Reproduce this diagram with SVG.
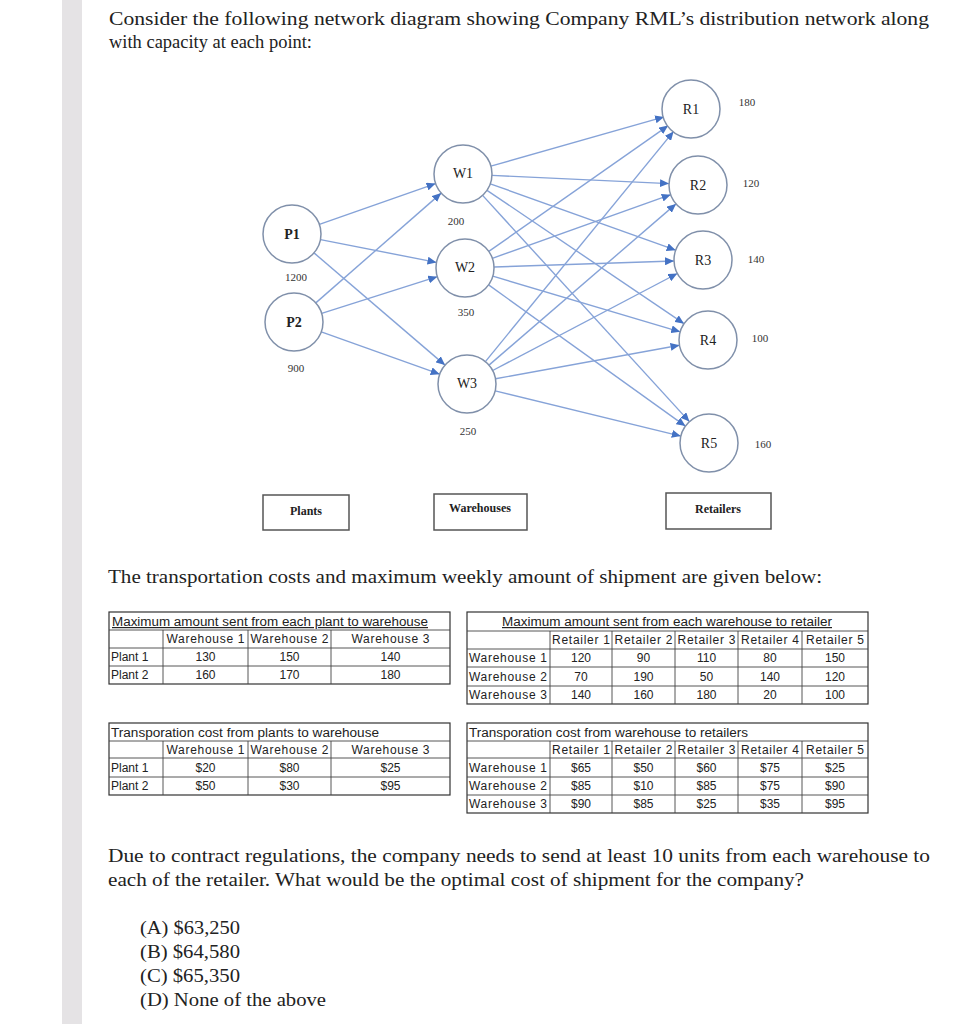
<svg xmlns="http://www.w3.org/2000/svg" width="974" height="1024" viewBox="0 0 974 1024">
<style>
.para{font-family:"Liberation Serif","Times New Roman",serif;font-size:19px;fill:#222}
.node{fill:#fff;stroke:#8090aa;stroke-width:1.5}
.nlab{font-family:"Liberation Serif",serif;font-size:14px;fill:#222;text-anchor:middle}
.cap{font-family:"Liberation Serif",serif;font-size:11px;fill:#333;text-anchor:middle}
.edge{stroke:#86a3d8;stroke-width:1.4;fill:none;marker-end:url(#ah)}
.box{fill:#fff;stroke:#555;stroke-width:1.5}
.blab{font-family:"Liberation Serif",serif;font-size:12px;font-weight:bold;fill:#222;text-anchor:middle}
.tb{fill:none;stroke:#333;stroke-width:1.2}
.tl{stroke:#444;stroke-width:0.9}
.tt{font-family:"Liberation Sans",Arial,sans-serif;font-size:12px;fill:#222}
.tc{font-family:"Liberation Sans",Arial,sans-serif;font-size:12px;fill:#222;text-anchor:middle}
</style>
<defs>
<marker id="ah" markerUnits="userSpaceOnUse" markerWidth="9" markerHeight="8" refX="9" refY="4" orient="auto">
<path d="M0,0 L9,4 L0,8 z" fill="#4472c4"/>
</marker>
</defs>
<rect width="974" height="1024" fill="#fff"/>
<rect x="62" y="0" width="20" height="1024" fill="#e5e3e5"/>

<text class="para" x="109" y="25" textLength="820" lengthAdjust="spacingAndGlyphs">Consider the following network diagram showing Company RML’s distribution network along</text>
<text class="para" x="109" y="48" textLength="203" lengthAdjust="spacingAndGlyphs">with capacity at each point:</text>

<g id="connectors">
<line class="edge" x1="319.4" y1="224.4" x2="435.6" y2="183.6"/>
<line class="edge" x1="320.5" y1="239.6" x2="436.5" y2="262.4"/>
<line class="edge" x1="314" y1="252.9" x2="445" y2="365.1"/>
<line class="edge" x1="315.8" y1="302.9" x2="441.2" y2="193.1"/>
<line class="edge" x1="321.7" y1="313.3" x2="437.3" y2="276.7"/>
<line class="edge" x1="321.3" y1="331.8" x2="439.7" y2="374.2"/>
<line class="edge" x1="490.9" y1="166.1" x2="664.1" y2="116.9"/>
<line class="edge" x1="492" y1="175.4" x2="669" y2="183.6"/>
<line class="edge" x1="490.3" y1="183.8" x2="675.7" y2="250.2"/>
<line class="edge" x1="487" y1="190.3" x2="684" y2="323.7"/>
<line class="edge" x1="482.6" y1="195.4" x2="689.4" y2="421.6"/>
<line class="edge" x1="488.8" y1="251.4" x2="668.2" y2="125.6"/>
<line class="edge" x1="492.3" y1="258.3" x2="670.7" y2="194.7"/>
<line class="edge" x1="494" y1="267" x2="674" y2="261"/>
<line class="edge" x1="492.8" y1="276.2" x2="680.2" y2="331.8"/>
<line class="edge" x1="488.6" y1="284.9" x2="685.4" y2="426.1"/>
<line class="edge" x1="485.4" y1="361.6" x2="673.6" y2="131.4"/>
<line class="edge" x1="489" y1="365.1" x2="676" y2="203.9"/>
<line class="edge" x1="492.7" y1="370.5" x2="677.3" y2="273.5"/>
<line class="edge" x1="495.5" y1="378.8" x2="679.5" y2="345.2"/>
<line class="edge" x1="495.2" y1="390.9" x2="680.8" y2="436.1"/>
</g>

<g id="P1"><circle class="node" cx="292" cy="234" r="29"/><text class="nlab" x="292" y="239" font-weight="bold">P1</text><text class="cap" x="296" y="281">1200</text></g>
<g id="P2"><circle class="node" cx="294" cy="322" r="29"/><text class="nlab" x="294" y="327" font-weight="bold">P2</text><text class="cap" x="296" y="372">900</text></g>
<g id="W1"><circle class="node" cx="463" cy="174" r="29"/><text class="nlab" x="463" y="178" font-size="12">W1</text><text class="cap" x="456" y="225">200</text></g>
<g id="W2"><circle class="node" cx="465" cy="268" r="29"/><text class="nlab" x="465" y="272" font-size="12">W2</text><text class="cap" x="466" y="316">350</text></g>
<g id="W3"><circle class="node" cx="467" cy="384" r="29"/><text class="nlab" x="467" y="388" font-size="12">W3</text><text class="cap" x="468" y="435">250</text></g>
<g id="R1"><circle class="node" cx="691" cy="109" r="29"/><text class="nlab" x="691" y="114">R1</text><text class="cap" x="747" y="106">180</text></g>
<g id="R2"><circle class="node" cx="698" cy="185" r="29"/><text class="nlab" x="698" y="190">R2</text><text class="cap" x="751" y="187">120</text></g>
<g id="R3"><circle class="node" cx="703" cy="260" r="29"/><text class="nlab" x="703" y="265">R3</text><text class="cap" x="756" y="263">140</text></g>
<g id="R4"><circle class="node" cx="708" cy="340" r="29"/><text class="nlab" x="708" y="345">R4</text><text class="cap" x="760" y="342">100</text></g>
<g id="R5"><circle class="node" cx="709" cy="443" r="29"/><text class="nlab" x="709" y="448">R5</text><text class="cap" x="763" y="448">160</text></g>

<g id="Plants"><rect class="box" x="263" y="495" width="86" height="35"/><text class="blab" x="306" y="515">Plants</text></g>
<g id="Warehouses"><rect class="box" x="434" y="494" width="93" height="36"/><text class="blab" x="480" y="512">Warehouses</text></g>
<g id="Retailers"><rect class="box" x="666" y="493" width="105" height="36"/><text class="blab" x="718" y="513">Retailers</text></g>

<text class="para" x="108" y="583" textLength="714" lengthAdjust="spacingAndGlyphs">The transportation costs and maximum weekly amount of shipment are given below:</text>

<g id="table1">
<rect class="tb" x="109" y="612" width="341" height="72"/>
<line class="tl" x1="109" y1="630" x2="450" y2="630"/>
<line class="tl" x1="109" y1="648" x2="450" y2="648"/>
<line class="tl" x1="109" y1="666" x2="450" y2="666"/>
<line class="tl" x1="163" y1="630" x2="163" y2="684"/>
<line class="tl" x1="248" y1="630" x2="248" y2="684"/>
<line class="tl" x1="331" y1="630" x2="331" y2="684"/>
<text class="tt" x="112" y="626" textLength="316" lengthAdjust="spacingAndGlyphs" text-decoration="underline">Maximum amount sent from each plant to warehouse</text>
<text class="tc" x="205.5" y="643" textLength="78">Warehouse 1</text><text class="tc" x="289.5" y="643" textLength="78">Warehouse 2</text><text class="tc" x="390.5" y="643" textLength="78">Warehouse 3</text>
<text class="tt" x="111" y="661">Plant 1</text><text class="tc" x="205.5" y="661">130</text><text class="tc" x="289.5" y="661">150</text><text class="tc" x="390.5" y="661">140</text>
<text class="tt" x="111" y="679">Plant 2</text><text class="tc" x="205.5" y="679">160</text><text class="tc" x="289.5" y="679">170</text><text class="tc" x="390.5" y="679">180</text>
</g>

<g id="table2">
<rect class="tb" x="467" y="612" width="401" height="92"/>
<line class="tl" x1="467" y1="631" x2="868" y2="631"/>
<line class="tl" x1="467" y1="649" x2="868" y2="649"/>
<line class="tl" x1="467" y1="667" x2="868" y2="667"/>
<line class="tl" x1="467" y1="686" x2="868" y2="686"/>
<line class="tl" x1="550" y1="631" x2="550" y2="704"/>
<line class="tl" x1="612" y1="631" x2="612" y2="704"/>
<line class="tl" x1="675" y1="631" x2="675" y2="704"/>
<line class="tl" x1="738" y1="631" x2="738" y2="704"/>
<line class="tl" x1="802" y1="631" x2="802" y2="704"/>
<text class="tc" x="667" y="626" textLength="330" lengthAdjust="spacingAndGlyphs" text-decoration="underline">Maximum amount sent from each warehouse to retailer</text>
<text class="tc" x="581" y="644" textLength="58">Retailer 1</text><text class="tc" x="643.5" y="644" textLength="58">Retailer 2</text><text class="tc" x="706.5" y="644" textLength="58">Retailer 3</text><text class="tc" x="770" y="644" textLength="58">Retailer 4</text><text class="tc" x="835" y="644" textLength="58">Retailer 5</text>
<text class="tt" x="469" y="662" textLength="78">Warehouse 1</text><text class="tc" x="581" y="662">120</text><text class="tc" x="643.5" y="662">90</text><text class="tc" x="706.5" y="662">110</text><text class="tc" x="770" y="662">80</text><text class="tc" x="835" y="662">150</text>
<text class="tt" x="469" y="681" textLength="78">Warehouse 2</text><text class="tc" x="581" y="681">70</text><text class="tc" x="643.5" y="681">190</text><text class="tc" x="706.5" y="681">50</text><text class="tc" x="770" y="681">140</text><text class="tc" x="835" y="681">120</text>
<text class="tt" x="469" y="699" textLength="78">Warehouse 3</text><text class="tc" x="581" y="699">140</text><text class="tc" x="643.5" y="699">160</text><text class="tc" x="706.5" y="699">180</text><text class="tc" x="770" y="699">20</text><text class="tc" x="835" y="699">100</text>
</g>

<g id="table3">
<rect class="tb" x="109" y="723" width="341" height="72"/>
<line class="tl" x1="109" y1="741" x2="450" y2="741"/>
<line class="tl" x1="109" y1="758" x2="450" y2="758"/>
<line class="tl" x1="109" y1="777" x2="450" y2="777"/>
<line class="tl" x1="163" y1="741" x2="163" y2="795"/>
<line class="tl" x1="248" y1="741" x2="248" y2="795"/>
<line class="tl" x1="331" y1="741" x2="331" y2="795"/>
<text class="tt" x="111" y="737" textLength="268" lengthAdjust="spacingAndGlyphs">Transporation cost from plants to warehouse</text>
<text class="tc" x="205.5" y="754" textLength="78">Warehouse 1</text><text class="tc" x="289.5" y="754" textLength="78">Warehouse 2</text><text class="tc" x="390.5" y="754" textLength="78">Warehouse 3</text>
<text class="tt" x="111" y="772">Plant 1</text><text class="tc" x="205.5" y="772">$20</text><text class="tc" x="289.5" y="772">$80</text><text class="tc" x="390.5" y="772">$25</text>
<text class="tt" x="111" y="790">Plant 2</text><text class="tc" x="205.5" y="790">$50</text><text class="tc" x="289.5" y="790">$30</text><text class="tc" x="390.5" y="790">$95</text>
</g>

<g id="table4">
<rect class="tb" x="467" y="723" width="401" height="90"/>
<line class="tl" x1="467" y1="741" x2="868" y2="741"/>
<line class="tl" x1="467" y1="758" x2="868" y2="758"/>
<line class="tl" x1="467" y1="777" x2="868" y2="777"/>
<line class="tl" x1="467" y1="795" x2="868" y2="795"/>
<line class="tl" x1="550" y1="741" x2="550" y2="813"/>
<line class="tl" x1="612" y1="741" x2="612" y2="813"/>
<line class="tl" x1="675" y1="741" x2="675" y2="813"/>
<line class="tl" x1="738" y1="741" x2="738" y2="813"/>
<line class="tl" x1="802" y1="741" x2="802" y2="813"/>
<text class="tt" x="469" y="737" textLength="279" lengthAdjust="spacingAndGlyphs">Transporation cost from warehouse to retailers</text>
<text class="tc" x="581" y="754" textLength="58">Retailer 1</text><text class="tc" x="643.5" y="754" textLength="58">Retailer 2</text><text class="tc" x="706.5" y="754" textLength="58">Retailer 3</text><text class="tc" x="770" y="754" textLength="58">Retailer 4</text><text class="tc" x="835" y="754" textLength="58">Retailer 5</text>
<text class="tt" x="469" y="772" textLength="78">Warehouse 1</text><text class="tc" x="581" y="772">$65</text><text class="tc" x="643.5" y="772">$50</text><text class="tc" x="706.5" y="772">$60</text><text class="tc" x="770" y="772">$75</text><text class="tc" x="835" y="772">$25</text>
<text class="tt" x="469" y="790" textLength="78">Warehouse 2</text><text class="tc" x="581" y="790">$85</text><text class="tc" x="643.5" y="790">$10</text><text class="tc" x="706.5" y="790">$85</text><text class="tc" x="770" y="790">$75</text><text class="tc" x="835" y="790">$90</text>
<text class="tt" x="469" y="808" textLength="78">Warehouse 3</text><text class="tc" x="581" y="808">$90</text><text class="tc" x="643.5" y="808">$85</text><text class="tc" x="706.5" y="808">$25</text><text class="tc" x="770" y="808">$35</text><text class="tc" x="835" y="808">$95</text>
</g>

<text class="para" x="108" y="862" textLength="822" lengthAdjust="spacingAndGlyphs">Due to contract regulations, the company needs to send at least 10 units from each warehouse to</text>
<text class="para" x="108" y="886" textLength="696" lengthAdjust="spacingAndGlyphs">each of the retailer. What would be the optimal cost of shipment for the company?</text>
<text class="para" x="140" y="934" textLength="100" lengthAdjust="spacingAndGlyphs">(A) $63,250</text>
<text class="para" x="140" y="958" textLength="100" lengthAdjust="spacingAndGlyphs">(B) $64,580</text>
<text class="para" x="140" y="982" textLength="100" lengthAdjust="spacingAndGlyphs">(C) $65,350</text>
<text class="para" x="140" y="1006" textLength="186" lengthAdjust="spacingAndGlyphs">(D) None of the above</text>
</svg>
